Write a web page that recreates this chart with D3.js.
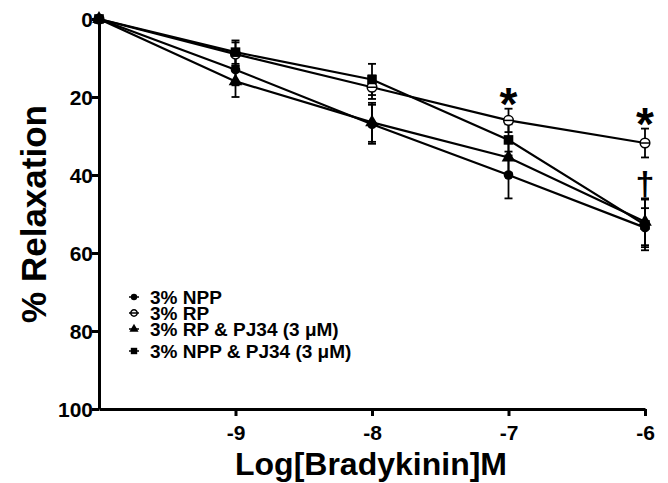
<!DOCTYPE html>
<html>
<head>
<meta charset="utf-8">
<script src="https://cdn.jsdelivr.net/npm/d3@7"></script>
<style>
  body { margin: 0; background: #fff; }
  text { font-family: "Liberation Sans", Arial, sans-serif; font-weight: bold; fill: #000; }
</style>
</head>
<body>
<svg id="chart"></svg>
<script>
const logDose = [-10, -9, -8, -7, -6];
const xTicks = [-9, -8, -7, -6];
const yTicks = [0, 20, 40, 60, 80, 100];

const seriesNames = ['3% NPP', '3% RP', '3% RP & PJ34 (3 \u03bcM)', '3% NPP & PJ34 (3 \u03bcM)'];
const seriesSymbols = ['circle', 'open', 'triangle', 'square'];
const nppMean = [0, 13, 27, 40, 53.5];
const nppSem = [0, 4, 5, 6, 5];
const rpMean = [0, 9, 17.5, 26, 31.8];
const rpSem = [0, 3, 3, 3, 3.7];
const rpPjMean = [0, 16, 26.5, 35.5, 52];
const rpPjSem = [0, 4, 5, 4, 6];
const nppPjMean = [0, 8.5, 15.5, 31, 52.8];
const nppPjSem = [0, 3, 4, 4, 6.5];

// significance marks: position in data units
const annotations = [
  { x: -7, y: 19.5, label: '*' },
  { x: -6, y: 24.5, label: '*' },
  { x: -6, y: 42, label: '\u2020' }
];

const width = 668, height = 483;
const plotLeft = 99, plotRight = 645, plotTop = 19, plotBottom = 409;

const series = [nppMean, rpMean, rpPjMean, nppPjMean].map((m, i) => ({
  name: seriesNames[i],
  symbol: seriesSymbols[i],
  values: m.map((v, j) => ({
    x: logDose[j],
    y: v,
    e: [nppSem, rpSem, rpPjSem, nppPjSem][i][j]
  }))
}));

const svg = d3.select('#chart')
  .attr('width', width)
  .attr('height', height);

const scaleX = d3.scaleLinear().domain([-10, -6]).range([plotLeft, plotRight]);
const scaleY = d3.scaleLinear().domain([0, 100]).range([plotTop, plotBottom]);

// axes
svg.append('g')
  .attr('transform', `translate(0,${plotBottom})`)
  .call(d3.axisBottom(scaleX).tickValues(xTicks).tickFormat(d => String(d)).tickSize(7).tickSizeOuter(0))
  .call(g => g.selectAll('text').attr('font-size', 21).attr('dy', '1.0em'));

svg.append('g')
  .attr('transform', `translate(${plotLeft},0)`)
  .call(d3.axisLeft(scaleY).tickValues(yTicks).tickSize(7).tickSizeOuter(0))
  .call(g => g.selectAll('text').attr('font-size', 21).attr('dy', '0.36em').attr('x', -6));

svg.selectAll('.domain, .tick line')
  .attr('stroke', '#000')
  .attr('stroke-width', 3);
svg.selectAll('.tick text').style('font-family', '"Liberation Sans", Arial, sans-serif').style('font-weight', 'bold');

// lines
const line = d3.line()
  .x(d => scaleX(d.x))
  .y(d => scaleY(d.y));

svg.append('g').selectAll('path')
  .data(series)
  .enter().append('path')
  .attr('d', d => line(d.values))
  .attr('fill', 'none')
  .attr('stroke', '#000')
  .attr('stroke-width', 2.2);

// error bars
const errs = series.flatMap(s => s.values.filter(v => v.e > 0));
const eb = svg.append('g').attr('stroke', '#000').attr('stroke-width', 1.8);
errs.forEach(d => {
  const cx = scaleX(d.x);
  eb.append('line').attr('x1', cx).attr('x2', cx)
    .attr('y1', scaleY(d.y - d.e)).attr('y2', scaleY(d.y + d.e));
  [d.y - d.e, d.y + d.e].forEach(v => {
    eb.append('line').attr('x1', cx - 4).attr('x2', cx + 4)
      .attr('y1', scaleY(v)).attr('y2', scaleY(v));
  });
});

// markers
const drawMarker = (g, symbol, cx, cy, size) => {
  if (symbol === 'circle') {
    g.append('circle').attr('cx', cx).attr('cy', cy).attr('r', size).attr('fill', '#000');
  } else if (symbol === 'open') {
    g.append('circle').attr('cx', cx).attr('cy', cy).attr('r', size)
      .attr('fill', '#fff').attr('stroke', '#000').attr('stroke-width', 1.5);
    g.append('line').attr('x1', cx - size).attr('x2', cx + size).attr('y1', cy).attr('y2', cy)
      .attr('stroke', '#000').attr('stroke-width', 1.5);
  } else if (symbol === 'triangle') {
    g.append('path').attr('d', d3.symbol(d3.symbolTriangle, size * size * 3.5)())
      .attr('transform', `translate(${cx},${cy})`).attr('fill', '#000');
  } else {
    g.append('rect').attr('x', cx - size).attr('y', cy - size)
      .attr('width', size * 2).attr('height', size * 2).attr('fill', '#000');
  }
};

const marks = svg.append('g');
series.forEach(s => {
  s.values.forEach(d => drawMarker(marks, s.symbol, scaleX(d.x), scaleY(d.y), 4.8));
});

// annotations
svg.append('g').selectAll('text')
  .data(annotations)
  .enter().append('text')
  .attr('x', d => scaleX(d.x))
  .attr('y', d => scaleY(d.y))
  .attr('text-anchor', 'middle')
  .attr('font-size', d => d.label === '*' ? 46 : 34)
  .attr('dy', d => d.label === '*' ? '0.55em' : '0.36em')
  .text(d => d.label);

// legend
const legend = svg.append('g').attr('transform', 'translate(134,297)');
series.forEach((s, i) => {
  const rowY = i * 16 + (i === 3 ? 6 : 0);
  const row = legend.append('g').attr('transform', `translate(0,${rowY})`);
  row.append('line').attr('x1', -5).attr('x2', 5).attr('stroke', '#000').attr('stroke-width', 1.5);
  drawMarker(row, s.symbol, 0, 0, 3.2);
  row.append('text').attr('x', 16).attr('dy', '0.36em').attr('font-size', 19).text(s.name);
});

// axis titles
svg.append('text')
  .attr('transform', `translate(33,${(plotTop + plotBottom) / 2}) rotate(-90)`)
  .attr('text-anchor', 'middle')
  .attr('dy', '0.36em')
  .attr('font-size', 35)
  .text('% Relaxation');

svg.append('text')
  .attr('x', 371)
  .attr('y', 463)
  .attr('text-anchor', 'middle')
  .attr('dy', '0.36em')
  .attr('font-size', 32)
  .text('Log[Bradykinin]M');
</script>
</body>
</html>
